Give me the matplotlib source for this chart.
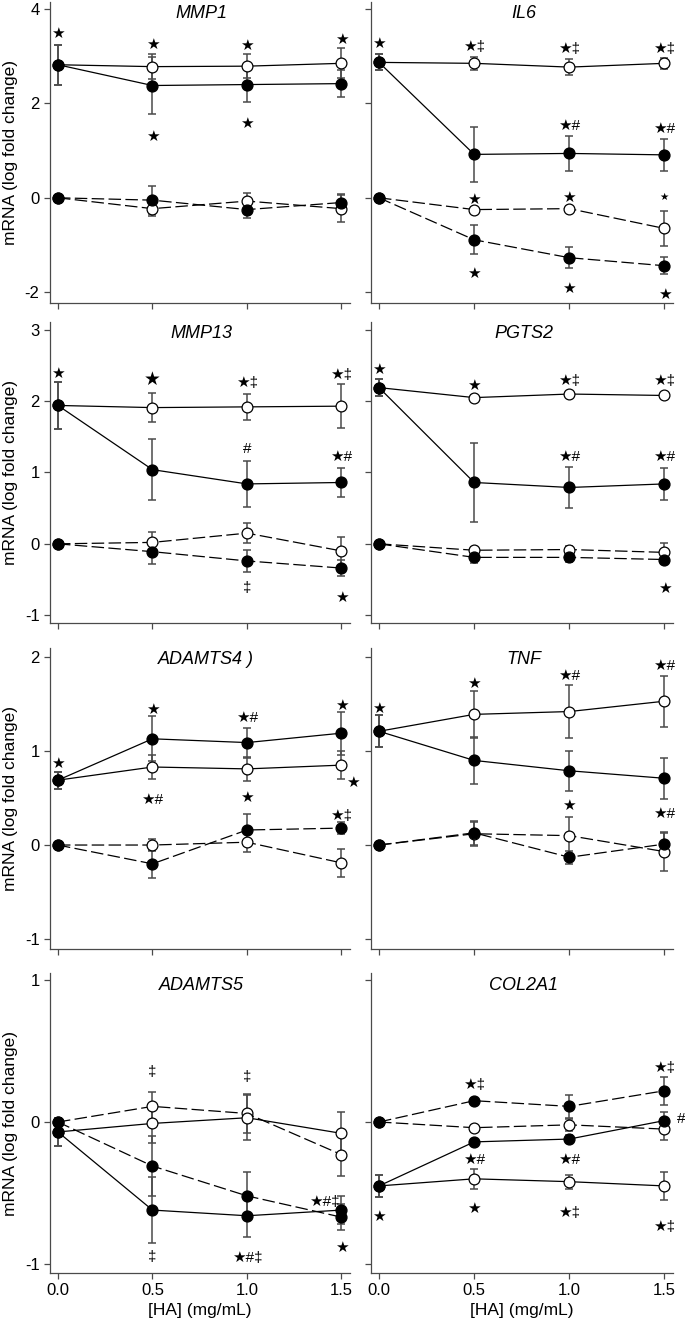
import matplotlib
matplotlib.use("Agg")
import matplotlib.pyplot as plt

plt.rcParams['font.family'] = ['Liberation Sans', 'DejaVu Sans']
plt.rcParams['axes.unicode_minus'] = False

# ---------------- data ----------------
hx = [0.0, 0.5, 1.0, 1.5]
x_ticklabels = ["0.0", "0.5", "1.0", "1.5"]

genes = ["MMP1", "IL6", "MMP13", "PGTS2", "ADAMTS4 )", "TNF", "ADAMTS5", "COL2A1"]

# fs = filled/solid, os = open/solid, fd = filled/dashed, od = open/dashed
MMP1_fs = [2.82, 2.38, 2.40, 2.42];   MMP1_fs_e = [0.42, 0.61, 0.36, 0.28]
MMP1_os = [2.82, 2.78, 2.79, 2.85];   MMP1_os_e = [0.42, 0.27, 0.26, 0.32]
MMP1_fd = [0.0, -0.05, -0.25, -0.10]; MMP1_fd_e = [0.0, 0.30, 0.17, 0.17]
MMP1_od = [0.0, -0.23, -0.07, -0.23]; MMP1_od_e = [0.0, 0.16, 0.17, 0.29]

IL6_fs = [2.87, 0.92, 0.94, 0.91];    IL6_fs_e = [0.17, 0.59, 0.37, 0.34]
IL6_os = [2.87, 2.85, 2.77, 2.85];    IL6_os_e = [0.17, 0.14, 0.17, 0.12]
IL6_fd = [0.0, -0.89, -1.27, -1.44];  IL6_fd_e = [0.0, 0.31, 0.22, 0.18]
IL6_od = [0.0, -0.25, -0.23, -0.65];  IL6_od_e = [0.0, 0.05, 0.05, 0.38]

MMP13_fs = [1.94, 1.04, 0.84, 0.86];   MMP13_fs_e = [0.33, 0.43, 0.32, 0.20]
MMP13_os = [1.94, 1.91, 1.92, 1.93];   MMP13_os_e = [0.33, 0.20, 0.18, 0.31]
MMP13_fd = [0.0, -0.11, -0.24, -0.34]; MMP13_fd_e = [0.0, 0.17, 0.16, 0.11]
MMP13_od = [0.0, 0.02, 0.15, -0.10];   MMP13_od_e = [0.0, 0.14, 0.14, 0.20]

PGTS2_fs = [2.19, 0.86, 0.79, 0.84];   PGTS2_fs_e = [0.12, 0.55, 0.29, 0.23]
PGTS2_os = [2.19, 2.05, 2.10, 2.08];   PGTS2_os_e = [0.12, 0.03, 0.03, 0.03]
PGTS2_fd = [0.0, -0.19, -0.19, -0.22]; PGTS2_fd_e = [0.0, 0.08, 0.07, 0.06]
PGTS2_od = [0.0, -0.09, -0.08, -0.12]; PGTS2_od_e = [0.0, 0.04, 0.05, 0.13]

ADAMTS4_fs = [0.69, 1.13, 1.09, 1.19]; ADAMTS4_fs_e = [0.09, 0.24, 0.16, 0.23]
ADAMTS4_os = [0.69, 0.83, 0.81, 0.85]; ADAMTS4_os_e = [0.09, 0.13, 0.13, 0.15]
ADAMTS4_fd = [0.0, -0.20, 0.16, 0.18]; ADAMTS4_fd_e = [0.0, 0.15, 0.17, 0.06]
ADAMTS4_od = [0.0, 0.00, 0.03, -0.19]; ADAMTS4_od_e = [0.0, 0.06, 0.10, 0.15]

TNF_fs = [1.21, 0.90, 0.79, 0.71];    TNF_fs_e = [0.17, 0.25, 0.21, 0.22]
TNF_os = [1.21, 1.39, 1.42, 1.53];    TNF_os_e = [0.17, 0.25, 0.28, 0.27]
TNF_fd = [0.0, 0.13, -0.13, 0.01];    TNF_fd_e = [0.0, 0.13, 0.07, 0.12]
TNF_od = [0.0, 0.12, 0.10, -0.07];    TNF_od_e = [0.0, 0.13, 0.20, 0.21]

ADAMTS5_fs = [-0.07, -0.62, -0.66, -0.62]; ADAMTS5_fs_e = [0.10, 0.23, 0.15, 0.10]
ADAMTS5_os = [-0.07, -0.01, 0.03, -0.08];  ADAMTS5_os_e = [0.10, 0.14, 0.16, 0.15]
ADAMTS5_fd = [0.0, -0.31, -0.52, -0.67];   ADAMTS5_fd_e = [0.0, 0.21, 0.17, 0.09]
ADAMTS5_od = [0.0, 0.11, 0.06, -0.23];     ADAMTS5_od_e = [0.0, 0.10, 0.14, 0.15]

COL2A1_fs = [-0.45, -0.14, -0.12, 0.01];  COL2A1_fs_e = [0.08, 0.02, 0.03, 0.06]
COL2A1_os = [-0.45, -0.40, -0.42, -0.45]; COL2A1_os_e = [0.08, 0.07, 0.05, 0.10]
COL2A1_fd = [0.0, 0.15, 0.11, 0.22];      COL2A1_fd_e = [0.0, 0.02, 0.08, 0.10]
COL2A1_od = [0.0, -0.04, -0.02, -0.05];   COL2A1_od_e = [0.0, 0.02, 0.04, 0.08]

# significance marks: (x, y, text, size)
MMP1_sig = [(0, 3.47, '★', 'n'), (0.5, 3.23, '★', 'n'), (1.0, 3.21, '★', 'n'), (1.5, 3.35, '★', 'n'),
            (0.5, 1.30, '★', 'n'), (1.0, 1.57, '★', 'n')]
IL6_sig = [(0, 3.26, '★', 'n'), (0.5, 3.19, '★‡', 'n'), (1.0, 3.15, '★‡', 'n'), (1.5, 3.15, '★‡', 'n'),
           (1.0, 1.53, '★#', 'n'), (1.5, 1.46, '★#', 'n'), (0.5, -0.04, '★', 'n'), (1.0, 0.0, '★', 'n'),
           (1.5, 0.02, '★', 's'), (0.5, -1.62, '★', 'n'), (1.0, -1.94, '★', 'n'), (1.5, -2.06, '★', 'n')]
MMP13_sig = [(0, 2.38, '★', 'n'), (0.5, 2.29, '★', 'l'), (1.0, 2.25, '★‡', 'n'), (1.5, 2.37, '★‡', 'n'),
             (1.0, 1.33, '#', 'n'), (1.5, 1.22, '★#', 'n'), (1.0, -0.62, '‡', 'n'), (1.5, -0.76, '★', 'n')]
PGTS2_sig = [(0, 2.44, '★', 'n'), (0.5, 2.22, '★', 'n'), (1.0, 2.28, '★‡', 'n'), (1.5, 2.28, '★‡', 'n'),
             (1.0, 1.22, '★#', 'n'), (1.5, 1.22, '★#', 'n'), (1.5, -0.63, '★', 'n')]
ADAMTS4_sig = [(0, 0.86, '★', 'n'), (0.5, 1.44, '★', 'n'), (1.0, 1.35, '★#', 'n'), (1.5, 1.48, '★', 'n'),
               (1.56, 0.66, '★', 'n'), (0.5, 0.48, '★#', 'n'), (1.0, 0.50, '★', 'n'), (1.5, 0.31, '★‡', 'n')]
TNF_sig = [(0, 1.45, '★', 'n'), (0.5, 1.71, '★', 'n'), (1.0, 1.80, '★#', 'n'), (1.5, 1.90, '★#', 'n'),
           (1.0, 0.42, '★', 'n'), (1.5, 0.33, '★#', 'n')]
ADAMTS5_sig = [(0.5, 0.35, '‡', 'n'), (1.0, 0.32, '‡', 'n'), (0.5, -0.95, '‡', 'n'), (1.0, -0.96, '★#‡', 'n'),
               (1.41, -0.56, '★#‡', 'n'), (1.5, -0.89, '★', 'n')]
COL2A1_sig = [(0.5, 0.26, '★‡', 'n'), (1.5, 0.38, '★‡', 'n'), (1.59, 0.02, '#', 'n'), (0.5, -0.27, '★#', 'n'),
              (1.0, -0.27, '★#', 'n'), (0, -0.67, '★', 'n'), (0.5, -0.61, '★', 'n'), (1.0, -0.64, '★‡', 'n'),
              (1.5, -0.74, '★‡', 'n')]

row_yticks = [[-2, 0, 2, 4], [-1, 0, 1, 2, 3], [-1, 0, 1, 2], [-1, 0, 1]]
row_ylims = [(-2.23, 4.15), (-1.11, 3.11), (-1.106, 2.096), (-1.063, 1.049)]

panels = {
    "MMP1": (MMP1_fs, MMP1_fs_e, MMP1_os, MMP1_os_e, MMP1_fd, MMP1_fd_e, MMP1_od, MMP1_od_e, MMP1_sig),
    "IL6": (IL6_fs, IL6_fs_e, IL6_os, IL6_os_e, IL6_fd, IL6_fd_e, IL6_od, IL6_od_e, IL6_sig),
    "MMP13": (MMP13_fs, MMP13_fs_e, MMP13_os, MMP13_os_e, MMP13_fd, MMP13_fd_e, MMP13_od, MMP13_od_e, MMP13_sig),
    "PGTS2": (PGTS2_fs, PGTS2_fs_e, PGTS2_os, PGTS2_os_e, PGTS2_fd, PGTS2_fd_e, PGTS2_od, PGTS2_od_e, PGTS2_sig),
    "ADAMTS4 )": (ADAMTS4_fs, ADAMTS4_fs_e, ADAMTS4_os, ADAMTS4_os_e, ADAMTS4_fd, ADAMTS4_fd_e,
                  ADAMTS4_od, ADAMTS4_od_e, ADAMTS4_sig),
    "TNF": (TNF_fs, TNF_fs_e, TNF_os, TNF_os_e, TNF_fd, TNF_fd_e, TNF_od, TNF_od_e, TNF_sig),
    "ADAMTS5": (ADAMTS5_fs, ADAMTS5_fs_e, ADAMTS5_os, ADAMTS5_os_e, ADAMTS5_fd, ADAMTS5_fd_e,
                ADAMTS5_od, ADAMTS5_od_e, ADAMTS5_sig),
    "COL2A1": (COL2A1_fs, COL2A1_fs_e, COL2A1_os, COL2A1_os_e, COL2A1_fd, COL2A1_fd_e,
               COL2A1_od, COL2A1_od_e, COL2A1_sig),
}

# ---------------- layout ----------------
W, H = 685, 1322
fig = plt.figure(figsize=(W / 100, H / 100), dpi=100)
col_px = [(50, 350), (371, 673)]
row_px = [(2, 303), (322, 623), (648, 949), (973, 1273)]

SPINE = '#4a4a4a'
ERR = '#4a4a4a'
dash = (0, (10, 3.5))
sig_sizes = {'n': 11, 'l': 13.5, 's': 7.5}

for i, gene in enumerate(genes):
    r, c = divmod(i, 2)
    x0, x1 = col_px[c]
    t, b = row_px[r]
    ax = fig.add_axes([x0 / W, 1 - b / H, (x1 - x0) / W, (b - t) / H])
    fs, fse, os_, ose, fd, fde, od, ode, sig = panels[gene]

    # error bars
    for yv, ev in ((od, ode), (fd, fde), (os_, ose), (fs, fse)):
        ax.errorbar(hx, yv, yerr=ev, fmt='none', ecolor=ERR, elinewidth=1.1,
                    capsize=2.8, capthick=1.1, zorder=2)
    # lines + markers
    ax.plot(hx, od, color='black', lw=0.9, ls=dash, marker='o', ms=7.8,
            mfc='white', mec='black', mew=0.9, zorder=3)
    ax.plot(hx, os_, color='black', lw=0.9, ls='-', marker='o', ms=7.8,
            mfc='white', mec='black', mew=0.9, zorder=3.1)
    ax.plot(hx, fd, color='black', lw=0.9, ls=dash, marker='o', ms=7.8,
            mfc='black', mec='black', zorder=3.2)
    ax.plot(hx, fs, color='black', lw=0.9, ls='-', marker='o', ms=7.8,
            mfc='black', mec='black', zorder=3.3)

    for (sx, sy, st, ss) in sig:
        ax.text(sx, sy, st, ha='center', va='center', fontsize=sig_sizes[ss],
                family=['Liberation Sans', 'DejaVu Sans'], color='black', zorder=5)

    tx = 0.52 if gene.startswith("ADAMTS4") else 0.505
    ax.text(tx, 1 - 12 / (b - t), gene, transform=ax.transAxes, ha='center', va='center',
            fontsize=13, style='italic')

    ax.set_xlim(-0.042, 1.545)
    ax.set_ylim(*row_ylims[r])
    ax.set_xticks(hx)
    ax.set_yticks(row_yticks[r])
    for s in ('top', 'right'):
        ax.spines[s].set_visible(False)
    for s in ('left', 'bottom'):
        ax.spines[s].set_color(SPINE)
        ax.spines[s].set_linewidth(0.9)
    ax.tick_params(axis='both', direction='out', length=4.5, width=0.9, color=SPINE,
                   labelsize=12, pad=3)
    if c == 0:
        ax.set_yticklabels([str(v) for v in row_yticks[r]])
        ax.set_ylabel("mRNA (log fold change)", fontsize=12.5)
        ax.yaxis.set_label_coords(-32 / 300, 0.5)
    else:
        ax.set_yticklabels([])
    if r == 3:
        ax.set_xticklabels(x_ticklabels)
        ax.set_xlabel("[HA] (mg/mL)", fontsize=12.5, labelpad=3)
    else:
        ax.set_xticklabels([])

fig.savefig("out.png", dpi=100)
